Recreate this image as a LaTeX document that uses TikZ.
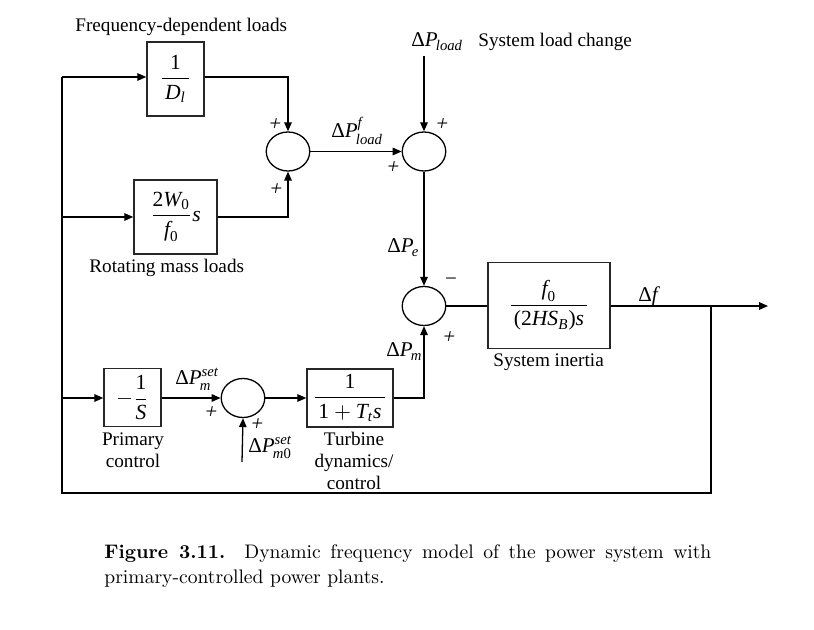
\documentclass[tikz,border=0pt]{standalone}
\usepackage{amsmath}
\usepackage{fontspec}
\newfontfamily\tms{Liberation Serif}
\newfontfamily\tmsl[FakeSlant=0.2]{Liberation Serif}
\usetikzlibrary{arrows.meta,shapes.geometric}
\newcommand\mi[1]{\text{\tms\itshape #1}}
\newcommand\mr[1]{\text{\tms #1}}
\newcommand\fr[2]{\dfrac{\hspace{1.5pt}#1\hspace{1.5pt}}{\hspace{1.5pt}#2\hspace{1.5pt}}}
\begin{document}
\begin{tikzpicture}[x=0.5pt,y=-0.5pt,
  ln/.style={line width=0.65pt},
  arr/.style={ln,-{Triangle[length=4.5pt,width=3.8pt]}},
  blk/.style={draw=black!85,line width=0.75pt,inner sep=0pt,font=\fontsize{10.8}{12}\selectfont},
  sumnode/.style={draw,ellipse,line width=0.65pt,minimum width=21.75pt,minimum height=19.5pt,inner sep=0pt},
  txt/.style={font=\tms\fontsize{9.6}{11}\selectfont,inner sep=0pt,anchor=base west},
  ctxt/.style={font=\tms\fontsize{9.6}{11}\selectfont,inner sep=0pt,anchor=base},
  lbl/.style={font=\fontsize{10.5}{12}\selectfont,inner sep=0pt,anchor=base west},
  sgn/.style={font=\tmsl\fontsize{10.5}{12}\selectfont,inner sep=0pt}]
\useasboundingbox (0,0) rectangle (814,630);

% blocks
\node[blk,minimum width=28.5pt,minimum height=37pt] (bD) at (175.5,79) {$\fr{\mr{1}}{\mi{D}_{\mi{l}}}$};
\node[blk,minimum width=41.5pt,minimum height=37pt] (bW) at (175.5,217) {$\dfrac{\mr{2}\mi{W}_{\mr{0}}}{\mi{f}_{\mr{0}}}\mi{s}$};
\node[blk,minimum width=61pt,minimum height=43pt] (bI) at (549,305.5) {$\fr{\mi{f}_{\mr{0}}}{\mr{(2}\mi{HS}_{\mi{B}}\mr{)}\mi{s}}$};
\node[blk,minimum width=28.5pt,minimum height=29pt] (bS) at (132.5,397.5) {$-\dfrac{\mr{1}}{\mi{S}}$};
\node[blk,minimum width=43pt,minimum height=29pt] (bT) at (350,398) {$\fr{\mr{1}}{\mr{1}+\mi{T}_{\mi{t}}\mi{s}}$};

% summing junctions
\node[sumnode] (s1) at (288,151.5) {};
\node[sumnode] (s2) at (424,151.5) {};
\node[sumnode] (s3) at (424,306) {};
\node[sumnode] (s4) at (243,398) {};

% coordinates
\coordinate (TL) at (62,77);
\coordinate (ML) at (62,217);
\coordinate (LL) at (62,398);
\coordinate (BL) at (62,493);
\coordinate (tap) at (711,306);
\coordinate (out) at (768,306);
\coordinate (top) at (424,56);
\coordinate (set0) at (242,462);

% connectors
\draw[ln] (tap) -- (tap |- BL) -- (BL) -- (TL);
\draw[arr] (TL) -- (TL -| bD.west);
\draw[arr] (ML) -- (ML -| bW.west);
\draw[arr] (LL) -- (LL -| bS.west);
\draw[arr] (TL -| bD.east) -| (s1.north);
\draw[arr] (bW.east) -| (s1.south);
\draw[arr] (s1.east) -- (s2.west);
\draw[arr] (top) -- (s2.north);
\draw[arr] (s2.south) -- (s3.north);
\draw[ln] (s3.east) -- (s3.east -| bI.west);
\draw[arr] (bI.east |- tap) -- (out);
\draw[arr] (LL -| bS.east) -- (s4.west);
\draw[arr] (set0) -- (s4.south);
\draw[arr] (s4.east) -- (s4.east -| bT.west);
\draw[arr] (LL -| bT.east) -| (s3.south);

% signal labels
\node[lbl] (lPload) at (411,47) {$\mr{Δ}\mi{P}_{\mkern-2mu\mi{load}}$};
\node[lbl] (lPf) at (331,138) {$\mr{Δ}\mi{P}^{\mi{f}}_{\mkern-2mu\mi{load}}$};
\node[lbl] (lPe) at (387,253) {$\mr{Δ}\mi{P}_{\mkern-2mu\mi{e}}$};
\node[lbl] (lPm) at (386,357) {$\mr{Δ}\mi{P}_{\mkern-2mu\mi{m}}$};
\node[lbl] (lPset) at (175,385) {$\mr{Δ}\mi{P}^{\mi{set}}_{\mkern-2mu\mi{m}}$};
\node[lbl] (lPset0) at (248,453) {$\mr{Δ}\mi{P}^{\mi{set}}_{\mkern-2mu\mi{m}\mr{0}}$};
\node[lbl] (ldf) at (638,302) {$\mr{Δ}\mi{f}$};

% signs
\node[sgn] (p1) at (274,125) {+};
\node[sgn] (p2) at (275,190) {+};
\node[sgn] (p3) at (441,125) {+};
\node[sgn] (p4) at (392,168) {+};
\node[sgn] (m5) at (451,282) {\tms −};
\node[sgn] (p6) at (448,338) {+};
\node[sgn] (p7) at (210,413) {+};
\node[sgn] (p8) at (256,425) {+};

% descriptive texts
\node[txt] (tFreq) at (75,32) {Frequency-dependent loads};
\node[txt] (tSys) at (478,47) {System load change};
\node[txt] (tRot) at (89,273) {Rotating mass loads};
\node[txt] (tIn) at (493,367) {System inertia};
\node[ctxt] (tPr1) at (133,446) {Primary};
\node[ctxt] (tPr2) at (133,468) {control};
\node[ctxt] (tTu1) at (354,446) {Turbine};
\node[ctxt] (tTu2) at (354,468) {dynamics/};
\node[ctxt] (tTu3) at (354,490) {control};

% caption
\node[anchor=base west,inner sep=0pt,font=\fontsize{9.8}{11.75}\selectfont] (cap1) at (104,559)
  {\makebox[303.5pt][s]{\textbf{Figure 3.11.}\ \ Dynamic frequency model of the power system with}};
\node[anchor=base west,inner sep=0pt,font=\fontsize{9.8}{11.75}\selectfont] (cap2) at (104,583)
  {primary-controlled power plants.};
\end{tikzpicture}
\end{document}
